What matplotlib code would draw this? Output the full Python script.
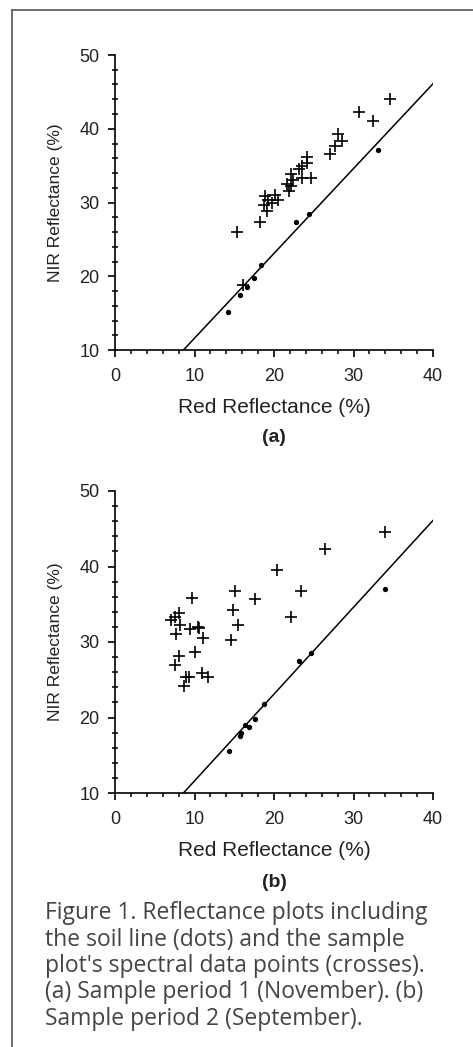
import numpy as np
import matplotlib
matplotlib.use('Agg')
import matplotlib.pyplot as plt
from matplotlib.lines import Line2D
from matplotlib.ticker import MultipleLocator

plt.rcParams['font.family'] = ['Liberation Sans', 'DejaVu Sans']

# soil line (fitted): NIR = slope * Red + intercept
soil_slope = 1.15
soil_intercept = 0.1

# (a) sample period 1 (November)
soil_red_a = [14.2, 15.7, 16.6, 17.5, 18.4, 22.8, 24.4, 33.1]
soil_nir_a = [15.2, 17.5, 18.5, 19.7, 21.5, 27.4, 28.5, 37.1]
plot_red_a = [15.3, 18.2, 19.1, 16.1, 34.6, 30.7, 32.4, 28.1, 27.7, 28.6, 27.0, 24.2,
              23.5, 24.1, 23.1, 22.2, 24.6, 23.5, 22.4, 21.6, 22.2, 21.9, 18.9, 20.1,
              20.5, 19.7, 18.8, 19.3]
plot_nir_a = [26.0, 27.3, 28.8, 18.8, 44.0, 42.3, 41.1, 39.3, 37.7, 38.4, 36.6, 36.2,
              34.9, 35.3, 34.6, 33.9, 33.3, 33.3, 33.1, 32.5, 32.3, 31.6, 30.9, 31.0,
              30.4, 30.0, 29.6, 30.3]

# (b) sample period 2 (September)
soil_red_b = [14.4, 15.7, 15.9, 16.4, 16.8, 17.6, 18.7, 23.1, 24.6, 34.0]
soil_nir_b = [15.5, 17.5, 18.0, 19.0, 18.7, 19.8, 21.8, 27.5, 28.5, 37.0]
plot_red_b = [33.9, 26.4, 20.4, 15.1, 23.4, 17.6, 9.7, 14.9, 22.1, 15.5, 8.0, 7.5,
              7.1, 8.2, 9.4, 10.4, 10.6, 11.1, 14.6, 7.7, 8.1, 10.1, 7.6, 8.9, 9.3,
              11.0, 11.7, 8.7]
plot_nir_b = [44.6, 42.3, 39.5, 36.8, 36.8, 35.7, 35.8, 34.3, 33.3, 32.3, 33.8, 33.3,
              32.9, 32.2, 31.7, 32.0, 31.8, 30.5, 30.3, 31.1, 28.1, 28.7, 27.0, 25.3,
              25.3, 25.9, 25.3, 24.2]

fig = plt.figure(figsize=(4.73, 10.47), dpi=100)

# page frame (left and top rule)
fig.add_artist(Line2D([12/473, 12/473], [0, 1 - 10/1047], color='#555555', lw=1.2))
fig.add_artist(Line2D([12/473, 1], [1 - 10/1047, 1 - 10/1047], color='#555555', lw=1.2))

panels = [
    ([115/473, 1 - 350/1047, 318/473, 295/1047], soil_red_a, soil_nir_a, plot_red_a, plot_nir_a, '(a)'),
    ([115/473, 1 - 793/1047, 318/473, 302/1047], soil_red_b, soil_nir_b, plot_red_b, plot_nir_b, '(b)'),
]

for rect, sr, sn, pr, pn, tag in panels:
    ax = fig.add_axes(rect)
    xs = np.array([0, 40])
    ax.plot(xs, soil_slope * xs + soil_intercept, color='black', lw=1.1)
    ax.plot(sr, sn, 'o', color='black', ms=2.8)
    ax.plot(pr, pn, '+', color='black', ms=8, mew=1.2)
    ax.set_xlim(0, 40)
    ax.set_ylim(10, 50)
    for s in ['top', 'right']:
        ax.spines[s].set_visible(False)
    for s in ['left', 'bottom']:
        ax.spines[s].set_linewidth(1.2)
    ax.xaxis.set_major_locator(MultipleLocator(10))
    ax.xaxis.set_minor_locator(MultipleLocator(2))
    ax.yaxis.set_major_locator(MultipleLocator(10))
    ax.yaxis.set_minor_locator(MultipleLocator(2))
    ax.tick_params(which='major', length=5, width=1.2, labelsize=13, color='black', labelcolor='#222222')
    ax.tick_params(axis='x', which='major', pad=8)
    ax.tick_params(axis='y', which='major', pad=6)
    ax.tick_params(which='minor', length=3, width=1.1)
    ax.tick_params(axis='y', which='minor', direction='inout', length=4)
    ax.set_xlabel('Red Reflectance (%)', fontsize=15, color='#222222', labelpad=9)
    ax.set_ylabel('NIR Reflectance (%)', fontsize=12.5, color='#222222', labelpad=12)
    ax.text(0.5, -0.295, tag, transform=ax.transAxes, ha='center', va='center',
            fontsize=14, fontweight='bold', color='#222222')

caption = ["Figure 1. Reflectance plots including",
           "the soil line (dots) and the sample",
           "plot's spectral data points (crosses).",
           "(a) Sample period 1 (November). (b)",
           "Sample period 2 (September)."]
for i, line in enumerate(caption):
    fig.text(45/473, 1 - (913 + i * 26.5)/1047, line, ha='left', va='center',
             fontsize=16.5, color='#444444', family=['Open Sans', 'DejaVu Sans'])

fig.savefig('out.png', dpi=100)
